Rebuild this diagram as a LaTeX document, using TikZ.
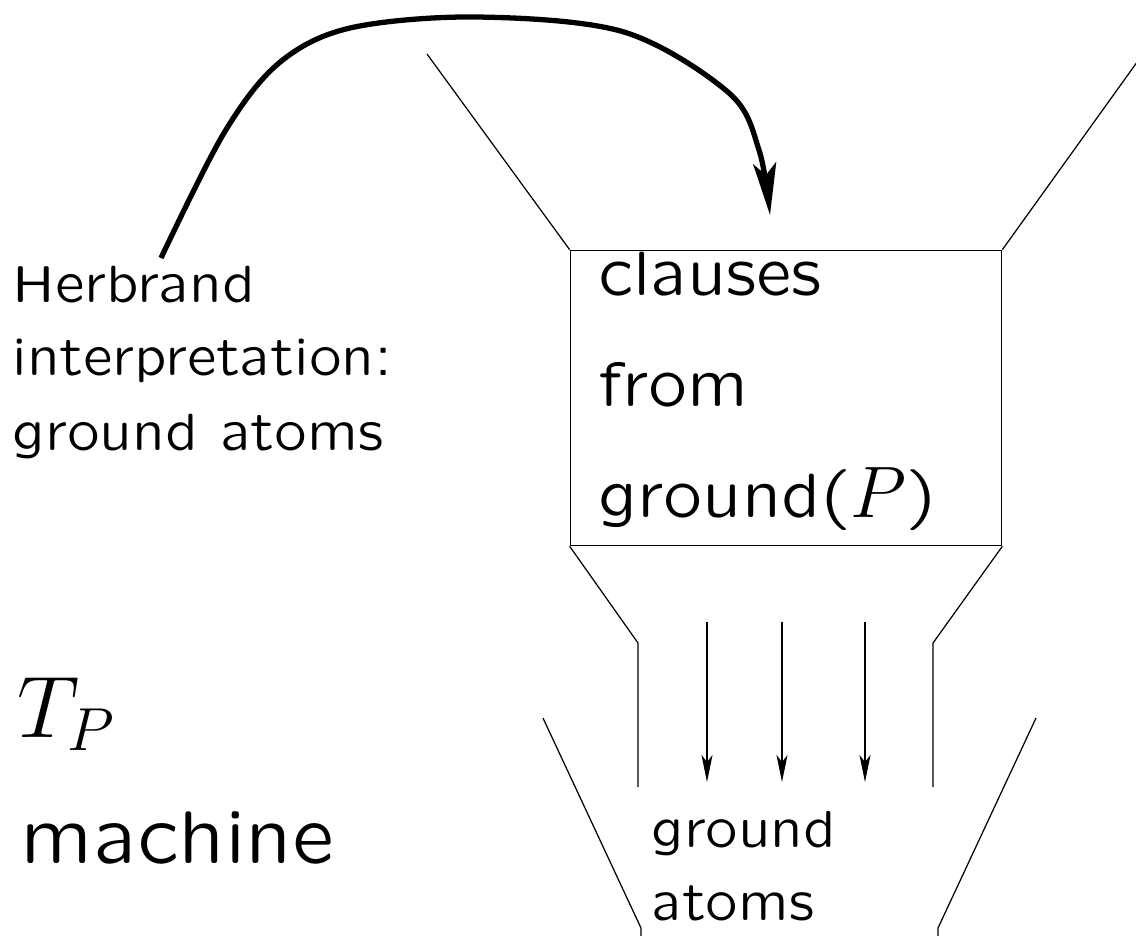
\documentclass[tikz,border=0pt]{standalone}
\usetikzlibrary{arrows.meta}
% wide-set slide sans serif, freely scalable
\DeclareFontFamily{OT1}{slidess}{}
\DeclareFontShape{OT1}{slidess}{m}{n}{<-> lcmss8}{}
\newcommand\slidesans{\fontencoding{OT1}\fontfamily{slidess}\fontseries{m}\fontshape{n}}
\newcommand\bigmath[1]{{\fontsize{20.2pt}{31pt}\selectfont$#1$}}
\begin{document}
\begin{tikzpicture}[x=0.01cm,y=-0.01cm,
  thinline/.style={line width=0.35pt},
  flow/.style={line width=0.6pt,-{Stealth[length=2.7mm,width=1.1mm,inset=0.7mm]}},
  feed/.style={line width=1.5pt,-{Stealth[length=5.2mm,width=2.3mm,inset=1.2mm]}},
  lbl/.style={inner sep=0pt,anchor=base west},
  herb/.style={lbl,font=\slidesans\fontsize{14.9pt}{21pt}\selectfont},
  clause/.style={lbl,font=\slidesans\fontsize{17.8pt}{31pt}\selectfont},
  atomtxt/.style={lbl,font=\slidesans\fontsize{14.8pt}{21pt}\selectfont},
  big/.style={lbl,font=\slidesans\fontsize{21.2pt}{30pt}\selectfont},
  mathlbl/.style={lbl,font=\fontsize{23.4pt}{30pt}\selectfont}]
\useasboundingbox (0,0) rectangle (1136,935);

% clause box
\node[draw,line width=0.4pt,inner sep=0pt,minimum width=4.31cm,minimum height=2.95cm] (box) at (786,398) {};
\node[clause] (c1) at (598,295) {clauses};
\node[clause] (c2) at (598,406) {from};
\node[clause] (c3) at (598,517) {ground(\bigmath{P})};

% upper hopper
\coordinate (tl) at (427,54);
\coordinate (tr) at (1140,58);
\draw[thinline] (tl) -- (box.north west);
\draw[thinline] (box.north east) -- (tr);

% neck below the box
\coordinate (nl) at (638,643);
\coordinate (nr) at (933,643);
\coordinate (nlb) at (638,787);
\coordinate (nrb) at (933,787);
\draw[thinline] (box.south west) -- (nl) -- (nlb);
\draw[thinline] (box.south east) -- (nr) -- (nrb);

% flow of atoms
\foreach \i/\x in {1/707,2/782,3/865}{
  \coordinate (fs\i) at (\x,622);
  \coordinate (fe\i) at (\x,782);
  \draw[flow] (fs\i) -- (fe\i);
}

% lower hopper
\coordinate (bl0) at (543,718);
\coordinate (bl1) at (641,928);
\coordinate (bl2) at (641,936);
\coordinate (br0) at (1036,718);
\coordinate (br1) at (938,928);
\coordinate (br2) at (938,936);
\draw[thinline] (bl0) -- (bl1) -- (bl2);
\draw[thinline] (br0) -- (br1) -- (br2);
\node[atomtxt] (a1) at (651,847) {ground};
\node[atomtxt] (a2) at (651,920) {atoms};

% interpretation labels
\node[herb] (h1) at (12,302) {Herbrand};
\node[herb] (h2) at (12,375) {interpretation:};
\node[herb] (h3) at (12,450) {ground atoms};

% machine label
\node[mathlbl] (tp) at (17,737) {$T_P$};
\node[big] (mach) at (20,863) {machine};

% feedback of the interpretation into the clauses
\coordinate (src) at (161,258);
\coordinate (dst) at (770,215);
\draw[feed] plot[smooth,tension=0.55] coordinates
  {(src) (224,133) (279,63) (350,28) (477,17) (624,32) (729,93) (759,150) (dst)};
\end{tikzpicture}
\end{document}
